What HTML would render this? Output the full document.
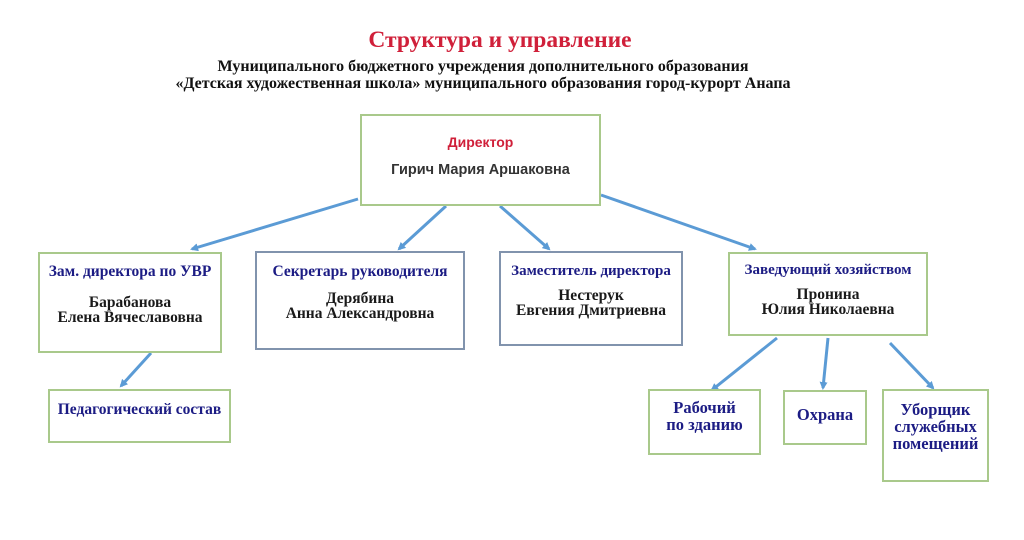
<!DOCTYPE html>
<html><head><meta charset="utf-8"><style>
body{margin:0;width:1024px;height:540px;background:#fff;position:relative;overflow:hidden;font-family:"Liberation Serif",serif}
.b{position:absolute;box-sizing:border-box;border:2px solid #a9c98b;background:#fff;text-align:center;font-weight:bold;white-space:nowrap}
.g{border-color:#8193ad}
.t{color:#1c1c84;font-size:15.5px}
.n{color:#1a1a1a;font-size:15.5px;line-height:15px}
.abs{position:absolute;left:0;width:1024px;text-align:center;font-weight:bold}
</style></head><body>
<div class="abs" style="top:27px;left:-12px;color:#d0203a;font-size:23.5px">Структура и управление</div>
<div class="abs" style="top:58px;left:-29px;font-size:16px;line-height:17px;color:#111">Муниципального бюджетного учреждения дополнительного образования<br>«Детская художественная школа» муниципального образования город-курорт Анапа</div>
<svg style="position:absolute;left:0;top:0" width="1024" height="540">
<defs><marker id="a" markerWidth="8" markerHeight="8" refX="6" refY="4" orient="auto" markerUnits="userSpaceOnUse"><path d="M0,0 L8,4 L0,8 z" fill="#5b9bd5"/></marker></defs>
<g stroke="#5b9bd5" stroke-width="3" marker-end="url(#a)" fill="none">
<line x1="358" y1="199" x2="192" y2="249"/>
<line x1="446" y1="206" x2="399" y2="249"/>
<line x1="500" y1="206" x2="549" y2="249"/>
<line x1="601" y1="195" x2="755" y2="249"/>
<line x1="151" y1="353" x2="121" y2="386"/>
<line x1="777" y1="338" x2="712" y2="390"/>
<line x1="828" y1="338" x2="823" y2="388"/>
<line x1="890" y1="343" x2="933" y2="388"/>
</g></svg>
<div class="b" style="left:360px;top:114px;width:241px;height:92px;font-family:'Liberation Sans',sans-serif">
<div style="color:#d0203a;font-size:14px;margin-top:18px">Директор</div>
<div style="color:#333;font-size:14.5px;margin-top:12px">Гирич Мария Аршаковна</div></div>
<div class="b" style="left:38px;top:252px;width:184px;height:101px"><div class="t" style="margin-top:9px">Зам. директора по УВР</div><div class="n" style="margin-top:14px">Барабанова<br>Елена Вячеславовна</div></div>
<div class="b g" style="left:255px;top:251px;width:210px;height:99px"><div class="t" style="margin-top:10px">Секретарь руководителя</div><div class="n" style="margin-top:10px">Дерябина<br>Анна Александровна</div></div>
<div class="b g" style="left:499px;top:251px;width:184px;height:95px"><div class="t" style="margin-top:10px;font-size:15px">Заместитель директора</div><div class="n" style="margin-top:8px">Нестерук<br>Евгения Дмитриевна</div></div>
<div class="b" style="left:728px;top:252px;width:200px;height:84px"><div class="t" style="margin-top:8px;font-size:15px">Заведующий хозяйством</div><div class="n" style="margin-top:8px">Пронина<br>Юлия Николаевна</div></div>
<div class="b" style="left:48px;top:389px;width:183px;height:54px"><div class="t" style="margin-top:10px">Педагогический состав</div></div>
<div class="b" style="left:648px;top:389px;width:113px;height:66px"><div class="t" style="margin-top:8px;line-height:17px;font-size:16.5px">Рабочий<br>по зданию</div></div>
<div class="b" style="left:783px;top:390px;width:84px;height:55px"><div class="t" style="margin-top:13px;font-size:16.5px">Охрана</div></div>
<div class="b" style="left:882px;top:389px;width:107px;height:93px"><div class="t" style="margin-top:10px;line-height:17px;font-size:16.5px">Уборщик<br>служебных<br>помещений</div></div>
</body></html>
